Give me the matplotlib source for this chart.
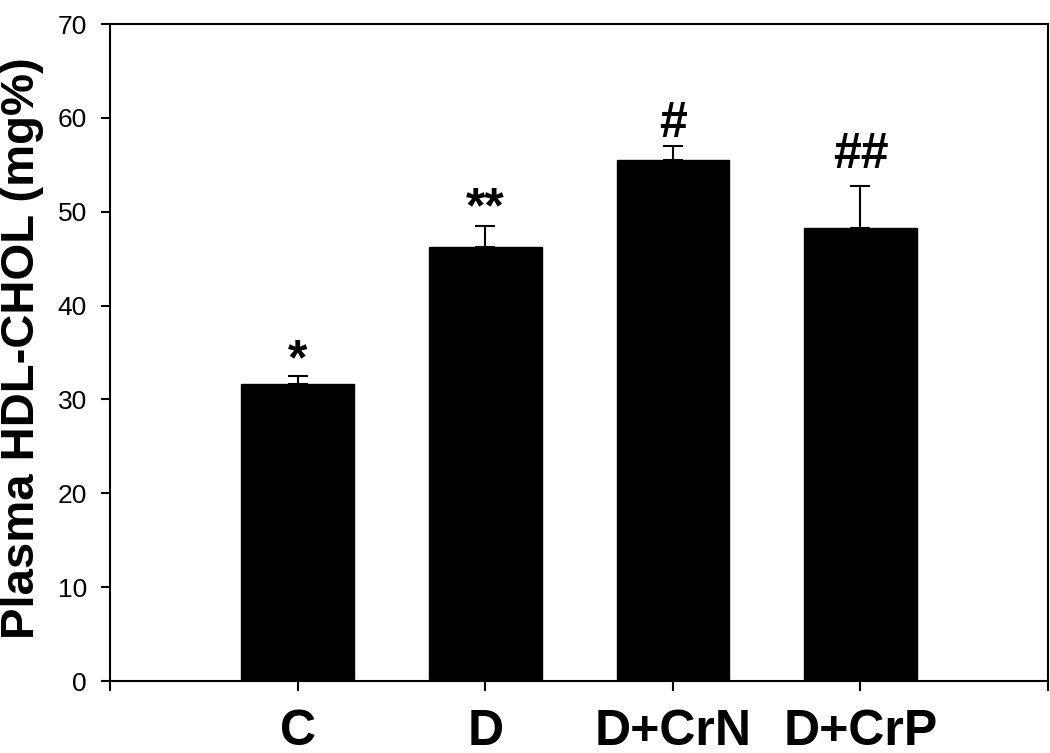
"""
Plasma HDL-CHOL bar chart with upper error bars and significance marks.
"""
import matplotlib
matplotlib.use("Agg")
import matplotlib.pyplot as plt

groups = ["C", "D", "D+CrN", "D+CrP"]
means = [31.6, 46.2, 55.5, 48.3]
errors = [0.9, 2.3, 1.5, 4.4]
marks = ["*", "**", "#", "##"]
# vertical nudge of each mark above its error cap (points)
mark_offsets = [1.5, 2.5, 6.5, 13.5]

plt.rcParams['font.family'] = ['Liberation Sans', 'DejaVu Sans']

fig = plt.figure(figsize=(10.5, 7.53), dpi=100)
ax = fig.add_axes([0.1048, 0.0956, 0.8933, 0.8725])

pos = list(range(1, len(groups) + 1))
ax.bar(pos, means, width=0.6, color='black', edgecolor='black', zorder=2)
ax.errorbar(pos, means, yerr=[[0] * len(errors), errors], fmt='none',
            ecolor='black', elinewidth=1.5, capsize=7, capthick=1.5, zorder=3)

for x, m, e, s, off in zip(pos, means, errors, marks, mark_offsets):
    ax.annotate(s, (x, m + e), xytext=(0, off), textcoords='offset points',
                ha='center', va='baseline', fontsize=36, fontweight='bold')

ax.set_xlim(0, 5)
ax.set_ylim(0, 70)
ax.set_xticks(range(0, 6))
ax.set_xticklabels([""] + groups + [""], fontsize=36, fontweight='bold')
ax.set_yticks(range(0, 71, 10))
ax.tick_params(axis='y', labelsize=19, length=6.5, width=1.5, pad=10)
ax.tick_params(axis='x', length=7, width=1.5, pad=13)
for sp in ax.spines.values():
    sp.set_linewidth(1.5)

ax.set_ylabel("Plasma HDL-CHOL (mg%)", fontsize=34, fontweight='bold')
ax.yaxis.set_label_coords(-0.0704, 0.507)

fig.savefig("out.png", dpi=100)
